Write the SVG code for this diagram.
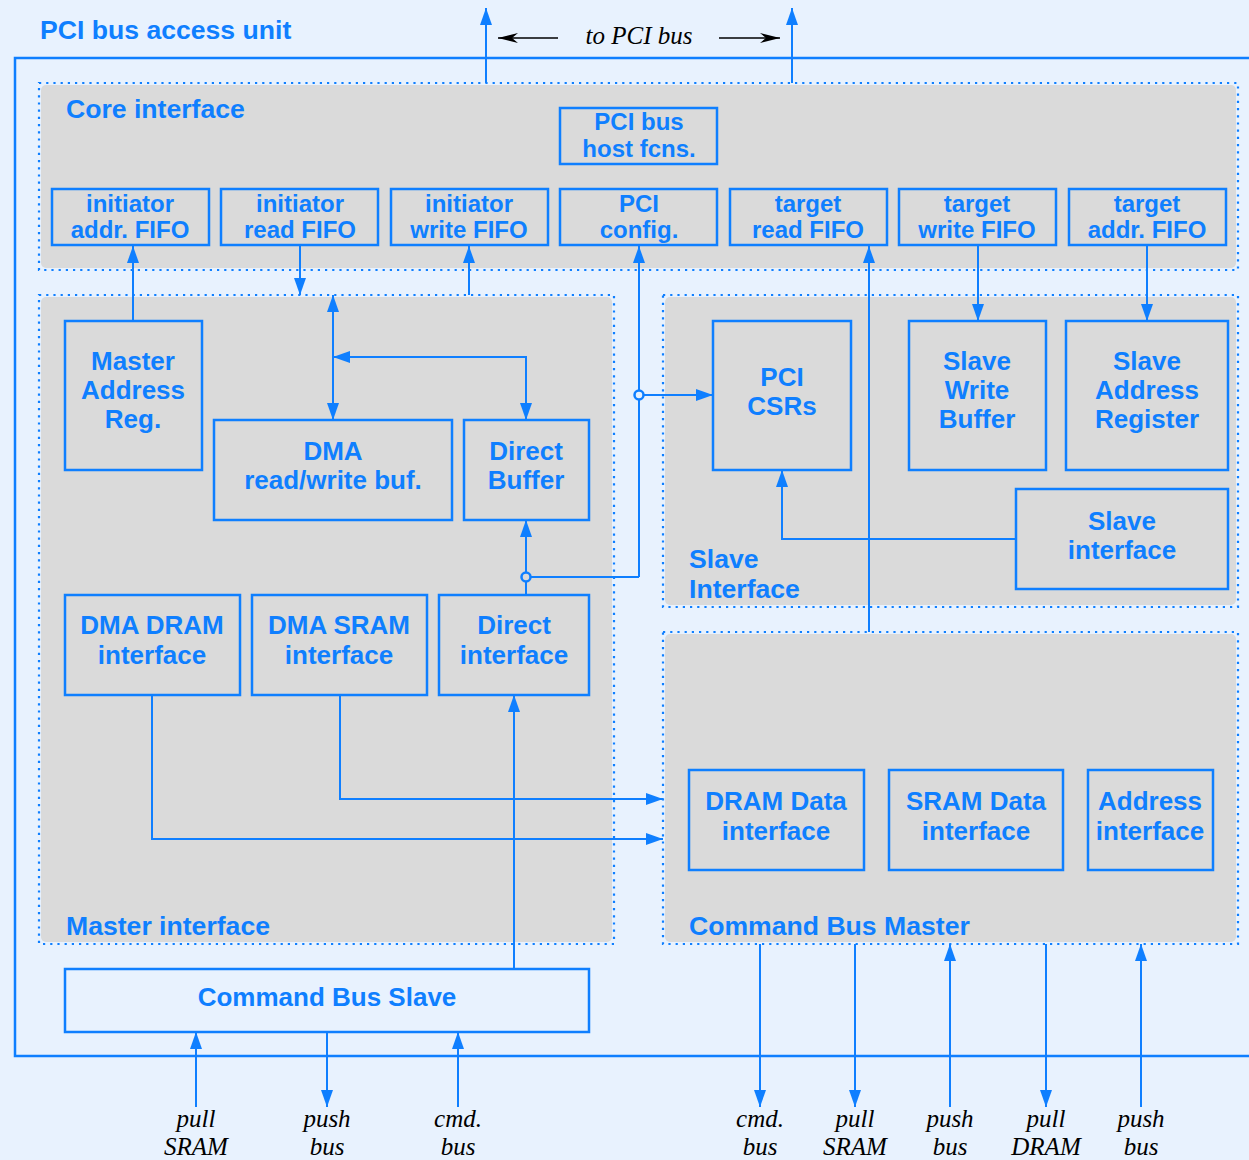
<svg xmlns="http://www.w3.org/2000/svg" width="1249" height="1160" viewBox="0 0 1249 1160">
<defs>
<marker id="a" viewBox="0 0 17 12" refX="17" refY="6" markerWidth="17" markerHeight="12" orient="auto-start-reverse" markerUnits="userSpaceOnUse">
<path d="M0,0 L17,6 L0,12 z" fill="#0F7FFF"/>
</marker>
<marker id="k" viewBox="0 0 20 10" refX="20" refY="5" markerWidth="20" markerHeight="10" orient="auto" markerUnits="userSpaceOnUse">
<path d="M0,0 L20,5 L0,10 L6,5 z" fill="#000"/>
</marker>
</defs>
<style>
.bg{fill:#E8F2FE}
.reg{fill:#DADADA;stroke:none}
.dot{fill:none;stroke:#0F7FFF;stroke-width:2.2;stroke-dasharray:2.2 5}
.box{fill:none;stroke:#0F7FFF;stroke-width:2.5}
.frame{fill:none;stroke:#0F7FFF;stroke-width:2.5}
.c{fill:none;stroke:#0F7FFF;stroke-width:2}
.t{font-family:"Liberation Sans",Arial,sans-serif;font-weight:bold;fill:#0F7FFF;font-size:26px}
.L{font-size:26.6px}
.s{font-size:24px}
.m{text-anchor:middle}
.i{font-family:"Liberation Serif","Times New Roman",serif;font-style:italic;fill:#000;font-size:25px;text-anchor:middle}
.j{fill:#E8F2FE;stroke:#0F7FFF;stroke-width:2.5}
</style>
<rect class="bg" x="0" y="0" width="1249" height="1160"/>
<path class="frame" d="M1252,58 H15 V1056 H1252"/>
<text class="t L" x="40" y="39">PCI bus access unit</text>

<g id="core-interface">
<rect class="reg" x="41" y="85" width="1195" height="183" rx="5"/>
<rect class="dot" x="39" y="83" width="1199" height="187"/>
<text class="t L" x="66" y="118">Core interface</text>
</g>
<g id="master-interface">
<rect class="reg" x="41" y="297" width="571" height="645" rx="5"/>
<rect class="dot" x="39" y="295" width="575" height="649"/>
<text class="t L" x="66" y="935">Master interface</text>
</g>
<g id="slave-interface-region">
<rect class="reg" x="665" y="297" width="571" height="308" rx="5"/>
<rect class="dot" x="663" y="295" width="575" height="312"/>
<text class="t L" x="689" y="568">Slave</text>
<text class="t L" x="689" y="598">Interface</text>
</g>
<g id="command-bus-master">
<rect class="reg" x="665" y="634" width="571" height="308" rx="5"/>
<rect class="dot" x="663" y="632" width="575" height="312"/>
<text class="t L" x="689" y="935">Command Bus Master</text>
</g>

<g id="connectors">
<path class="c" d="M486,83 V8" marker-end="url(#a)"/>
<path class="c" d="M792,83 V8" marker-end="url(#a)"/>
<path d="M558,38 H498" stroke="#000" stroke-width="1.5" fill="none" marker-end="url(#k)"/>
<path d="M719,38 H780" stroke="#000" stroke-width="1.5" fill="none" marker-end="url(#k)"/>
<path class="c" d="M133,321 V246" marker-end="url(#a)"/>
<path class="c" d="M300,246 V295" marker-end="url(#a)"/>
<path class="c" d="M469,295 V246" marker-end="url(#a)"/>
<path class="c" d="M333,295 V420" marker-start="url(#a)" marker-end="url(#a)"/>
<path class="c" d="M333,357 H526 V420" marker-start="url(#a)" marker-end="url(#a)"/>
<path class="c" d="M639,577 V246" marker-end="url(#a)"/>
<path class="c" d="M639,395 H713" marker-end="url(#a)"/>
<path class="c" d="M639,577 H526"/>
<path class="c" d="M526,577 V520" marker-end="url(#a)"/>
<path class="c" d="M526,577 V595"/>
<path class="c" d="M869,632 V246" marker-end="url(#a)"/>
<path class="c" d="M978,246 V321" marker-end="url(#a)"/>
<path class="c" d="M1147,246 V321" marker-end="url(#a)"/>
<path class="c" d="M1016,539 H782 V470" marker-end="url(#a)"/>
<path class="c" d="M340,695 V799 H663" marker-end="url(#a)"/>
<path class="c" d="M152,695 V839 H663" marker-end="url(#a)"/>
<path class="c" d="M514,969 V695" marker-end="url(#a)"/>
<path class="c" d="M196,1107 V1032" marker-end="url(#a)"/>
<path class="c" d="M327,1032 V1107" marker-end="url(#a)"/>
<path class="c" d="M458,1107 V1032" marker-end="url(#a)"/>
<path class="c" d="M760,944 V1107" marker-end="url(#a)"/>
<path class="c" d="M855,944 V1107" marker-end="url(#a)"/>
<path class="c" d="M950,1107 V944" marker-end="url(#a)"/>
<path class="c" d="M1046,944 V1107" marker-end="url(#a)"/>
<path class="c" d="M1141,1107 V944" marker-end="url(#a)"/>
<circle class="j" cx="639" cy="395" r="4.5"/>
<circle class="j" cx="526" cy="577" r="4.5" style="fill:#DADADA"/>
</g>

<text class="i" x="639" y="44">to PCI bus</text>

<g id="pci-bus-host-fcns">
<rect class="box" x="560" y="108" width="157" height="56"/>
<text class="t s m" x="639" y="130">PCI bus</text>
<text class="t s m" x="639" y="157">host fcns.</text>
</g>
<g id="initiator-addr-fifo">
<rect class="box" x="52" y="189" width="157" height="56"/>
<text class="t s m" x="130" y="212">initiator</text>
<text class="t s m" x="130" y="238">addr. FIFO</text>
</g>
<g id="initiator-read-fifo">
<rect class="box" x="221" y="189" width="157" height="56"/>
<text class="t s m" x="300" y="212">initiator</text>
<text class="t s m" x="300" y="238">read FIFO</text>
</g>
<g id="initiator-write-fifo">
<rect class="box" x="391" y="189" width="157" height="56"/>
<text class="t s m" x="469" y="212">initiator</text>
<text class="t s m" x="469" y="238">write FIFO</text>
</g>
<g id="pci-config">
<rect class="box" x="560" y="189" width="157" height="56"/>
<text class="t s m" x="639" y="212">PCI</text>
<text class="t s m" x="639" y="238">config.</text>
</g>
<g id="target-read-fifo">
<rect class="box" x="730" y="189" width="157" height="56"/>
<text class="t s m" x="808" y="212">target</text>
<text class="t s m" x="808" y="238">read FIFO</text>
</g>
<g id="target-write-fifo">
<rect class="box" x="899" y="189" width="157" height="56"/>
<text class="t s m" x="977" y="212">target</text>
<text class="t s m" x="977" y="238">write FIFO</text>
</g>
<g id="target-addr-fifo">
<rect class="box" x="1069" y="189" width="157" height="56"/>
<text class="t s m" x="1147" y="212">target</text>
<text class="t s m" x="1147" y="238">addr. FIFO</text>
</g>

<g id="master-address-reg">
<rect class="box" x="65" y="321" width="137" height="149"/>
<text class="t m" x="133" y="370">Master</text>
<text class="t m" x="133" y="399">Address</text>
<text class="t m" x="133" y="428">Reg.</text>
</g>
<g id="dma-rw-buf">
<rect class="box" x="214" y="420" width="238" height="100"/>
<text class="t m" x="333" y="460">DMA</text>
<text class="t m" x="333" y="489">read/write buf.</text>
</g>
<g id="direct-buffer">
<rect class="box" x="464" y="420" width="125" height="100"/>
<text class="t m" x="526" y="460">Direct</text>
<text class="t m" x="526" y="489">Buffer</text>
</g>
<g id="dma-dram-interface">
<rect class="box" x="65" y="595" width="175" height="100"/>
<text class="t m" x="152" y="634">DMA DRAM</text>
<text class="t m" x="152" y="664">interface</text>
</g>
<g id="dma-sram-interface">
<rect class="box" x="252" y="595" width="175" height="100"/>
<text class="t m" x="339" y="634">DMA SRAM</text>
<text class="t m" x="339" y="664">interface</text>
</g>
<g id="direct-interface">
<rect class="box" x="439" y="595" width="150" height="100"/>
<text class="t m" x="514" y="634">Direct</text>
<text class="t m" x="514" y="664">interface</text>
</g>
<g id="command-bus-slave">
<rect class="box" x="65" y="969" width="524" height="63"/>
<text class="t m" x="327" y="1006">Command Bus Slave</text>
</g>

<g id="pci-csrs">
<rect class="box" x="713" y="321" width="138" height="149"/>
<text class="t m" x="782" y="386">PCI</text>
<text class="t m" x="782" y="415">CSRs</text>
</g>
<g id="slave-write-buffer">
<rect class="box" x="909" y="321" width="137" height="149"/>
<text class="t m" x="977" y="370">Slave</text>
<text class="t m" x="977" y="399">Write</text>
<text class="t m" x="977" y="428">Buffer</text>
</g>
<g id="slave-address-register">
<rect class="box" x="1066" y="321" width="162" height="149"/>
<text class="t m" x="1147" y="370">Slave</text>
<text class="t m" x="1147" y="399">Address</text>
<text class="t m" x="1147" y="428">Register</text>
</g>
<g id="slave-interface">
<rect class="box" x="1016" y="489" width="212" height="100"/>
<text class="t m" x="1122" y="530">Slave</text>
<text class="t m" x="1122" y="559">interface</text>
</g>

<g id="dram-data-interface">
<rect class="box" x="689" y="770" width="175" height="100"/>
<text class="t m" x="776" y="810">DRAM Data</text>
<text class="t m" x="776" y="840">interface</text>
</g>
<g id="sram-data-interface">
<rect class="box" x="889" y="770" width="174" height="100"/>
<text class="t m" x="976" y="810">SRAM Data</text>
<text class="t m" x="976" y="840">interface</text>
</g>
<g id="address-interface">
<rect class="box" x="1088" y="770" width="125" height="100"/>
<text class="t m" x="1150" y="810">Address</text>
<text class="t m" x="1150" y="840">interface</text>
</g>

<g id="bus-labels">
<text class="i" x="196" y="1127">pull</text>
<text class="i" x="196" y="1155">SRAM</text>
<text class="i" x="327" y="1127">push</text>
<text class="i" x="327" y="1155">bus</text>
<text class="i" x="458" y="1127">cmd.</text>
<text class="i" x="458" y="1155">bus</text>
<text class="i" x="760" y="1127">cmd.</text>
<text class="i" x="760" y="1155">bus</text>
<text class="i" x="855" y="1127">pull</text>
<text class="i" x="855" y="1155">SRAM</text>
<text class="i" x="950" y="1127">push</text>
<text class="i" x="950" y="1155">bus</text>
<text class="i" x="1046" y="1127">pull</text>
<text class="i" x="1046" y="1155">DRAM</text>
<text class="i" x="1141" y="1127">push</text>
<text class="i" x="1141" y="1155">bus</text>
</g>
</svg>
